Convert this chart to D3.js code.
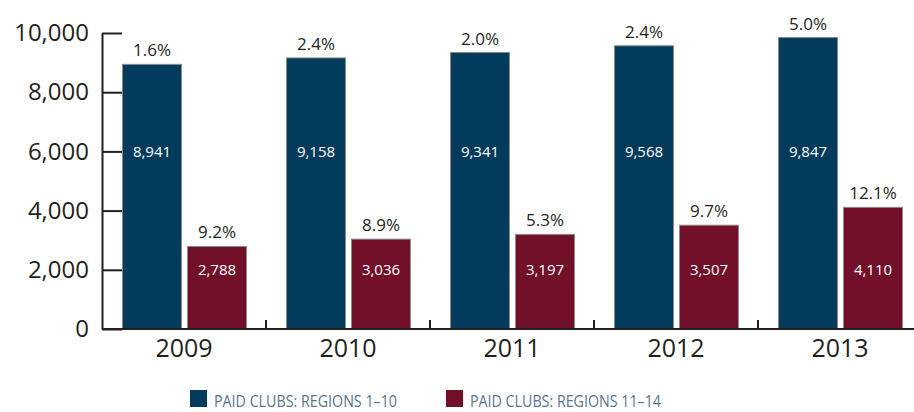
<!DOCTYPE html>
<html>
<head>
<meta charset="utf-8">
<script src="https://cdn.jsdelivr.net/npm/d3@7"></script>
<style>
  body { margin: 0; background: #fff; }
  text { font-family: "Open Sans", "Noto Sans", sans-serif; }
</style>
</head>
<body>
<div id="chart"></div>
<script>
const years = ["2009", "2010", "2011", "2012", "2013"];
const seriesNames = ["PAID CLUBS: REGIONS 1\u201310", "PAID CLUBS: REGIONS 11\u201314"];
const regions1to10 = [8941, 9158, 9341, 9568, 9847];
const regions11to14 = [2788, 3036, 3197, 3507, 4110];
const growth1to10 = ["1.6%", "2.4%", "2.0%", "2.4%", "5.0%"];
const growth11to14 = ["9.2%", "8.9%", "5.3%", "9.7%", "12.1%"];
const yTicks = [0, 2000, 4000, 6000, 8000, 10000];
const colors = ["#033b5c", "#72102a"];

const width = 914, height = 412;
const margin = { top: 33, right: -8, bottom: 83, left: 102 };

const svg = d3.select("#chart")
    .append("svg")
    .attr("width", width)
    .attr("height", height);

const x = d3.scaleBand()
    .domain(years)
    .range([margin.left, width - margin.right]);

// two bars per year, 59px wide with a 6px gap
const xSub = d3.scaleBand()
    .domain([0, 1])
    .range([20.5, 144.5])
    .paddingInner(6 / 65);

const y = d3.scaleLinear()
    .domain([0, 10000])
    .range([height - margin.bottom, margin.top]);

const rows = years.map((yr, i) => ({
    year: yr,
    values: [
        { s: 0, v: regions1to10[i], pct: growth1to10[i] },
        { s: 1, v: regions11to14[i], pct: growth11to14[i] }
    ]
}));

// bars
const groups = svg.append("g")
    .selectAll("g")
    .data(rows)
    .enter()
    .append("g")
    .attr("transform", d => `translate(${x(d.year)},0)`);

groups.selectAll("rect")
    .data(d => d.values)
    .enter()
    .append("rect")
    .attr("x", d => xSub(d.s))
    .attr("y", d => y(d.v))
    .attr("width", xSub.bandwidth())
    .attr("height", d => y(0) - y(d.v))
    .attr("fill", d => colors[d.s])
    .attr("stroke", "#8c8c8c")
    .attr("stroke-width", 1);

// value labels inside the bars
groups.selectAll(".val")
    .data(d => d.values)
    .enter()
    .append("text")
    .attr("class", "val")
    .attr("x", d => xSub(d.s) + xSub.bandwidth() / 2)
    .attr("y", d => y(d.s === 0 ? 6000 : 2000))
    .attr("dy", "0.36em")
    .attr("text-anchor", "middle")
    .attr("fill", "#fff")
    .style("font-size", "15px")
    .text(d => d3.format(",")(d.v));

// growth labels above bars
groups.selectAll(".pct")
    .data(d => d.values)
    .enter()
    .append("text")
    .attr("class", "pct")
    .attr("x", d => xSub(d.s) + xSub.bandwidth() / 2)
    .attr("y", d => y(d.v) - 8)
    .attr("text-anchor", "middle")
    .attr("fill", "#231f20")
    .style("font-size", "17px")
    .text(d => d.pct);

// y axis
const yAxis = svg.append("g")
    .attr("transform", `translate(${margin.left},0)`)
    .call(d3.axisLeft(y)
        .tickValues(yTicks)
        .tickFormat(d3.format(","))
        .tickSize(-20)
        .tickSizeOuter(0)
        .tickPadding(13));
yAxis.select(".domain").attr("stroke", "#231f20").attr("stroke-width", 2);
yAxis.selectAll(".tick line").attr("stroke", "#231f20").attr("stroke-width", 2);
yAxis.selectAll(".tick text")
    .attr("fill", "#231f20")
    .style("font-size", "24px")
    .style("font-family", "'Open Sans', sans-serif");

// x axis baseline with boundary ticks
const xAxis = svg.append("g");
xAxis.append("line")
    .attr("x1", margin.left)
    .attr("x2", width)
    .attr("y1", y(0))
    .attr("y2", y(0))
    .attr("stroke", "#231f20")
    .attr("stroke-width", 2);
xAxis.selectAll(".bound")
    .data(years)
    .enter()
    .append("line")
    .attr("x1", d => x(d) + x.bandwidth())
    .attr("x2", d => x(d) + x.bandwidth())
    .attr("y1", y(0))
    .attr("y2", y(0) - 9)
    .attr("stroke", "#231f20")
    .attr("stroke-width", 2);
xAxis.selectAll(".yr")
    .data(years)
    .enter()
    .append("text")
    .attr("x", d => x(d) + x.bandwidth() / 2)
    .attr("y", y(0) + 28)
    .attr("text-anchor", "middle")
    .attr("fill", "#231f20")
    .style("font-size", "25px")
    .text(d => d);

// legend
const legendX = [190, 446];
const legendW = [183, 191];
const legend = svg.append("g")
    .selectAll("g")
    .data(seriesNames)
    .enter()
    .append("g")
    .attr("transform", (d, i) => `translate(${legendX[i]},390)`);
legend.append("rect")
    .attr("width", 17)
    .attr("height", 17)
    .attr("fill", (d, i) => colors[i]);
legend.append("text")
    .attr("x", 24)
    .attr("y", 17)
    .attr("fill", "#56768c")
    .attr("textLength", (d, i) => legendW[i])
    .attr("lengthAdjust", "spacingAndGlyphs")
    .style("font-size", "17px")
    .text(d => d);
</script>
</body>
</html>
